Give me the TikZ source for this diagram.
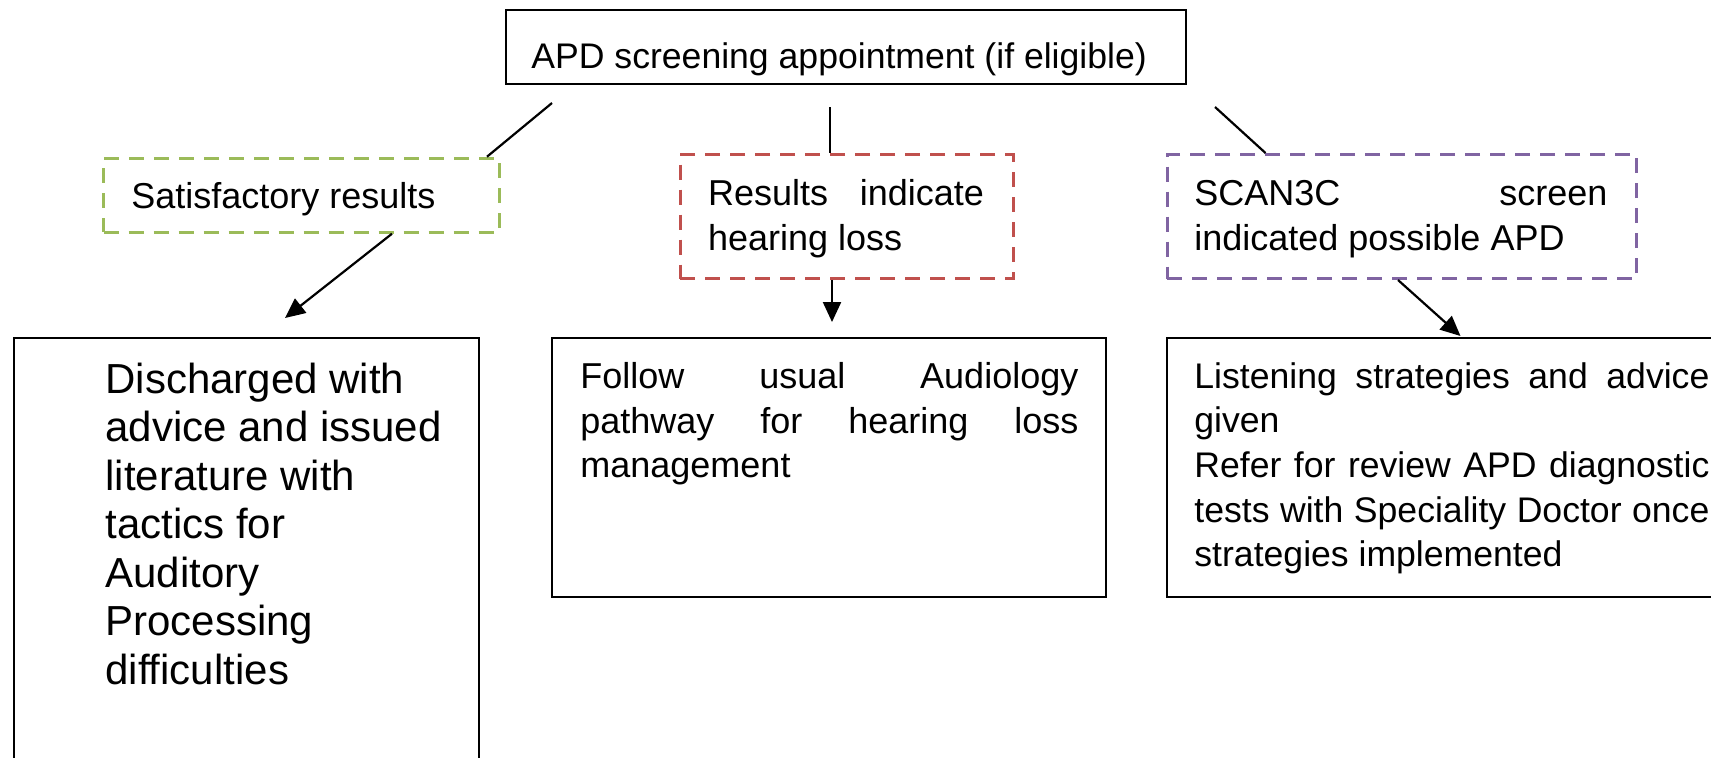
\documentclass[tikz,border=0pt]{standalone}
\usepackage{fontspec}
\setmainfont{Liberation Sans}
\usetikzlibrary{arrows.meta}
\definecolor{boxgreen}{HTML}{9BBB59}
\definecolor{boxred}{HTML}{C0504D}
\definecolor{boxpurple}{HTML}{8064A2}

\begin{document}
\begin{tikzpicture}[x=0.5pt,y=-0.5pt,
  solidbox/.style={draw=black, line width=1pt, inner sep=0pt, anchor=north west},
  dashbox/.style={line width=1.5pt, dash pattern=on 7.5pt off 5pt, inner sep=0pt, anchor=north west},
  txt/.style={inner sep=0pt, anchor=base west, align=left},
  link/.style={line width=1.1pt},
  flow/.style={line width=1.1pt, -{Triangle[length=10pt,width=9pt]}},
]
\useasboundingbox (0,0) rectangle (1711,757);
\clip (0,0) rectangle (1711,757);

% frames
\node[solidbox, minimum width=340.25pt, minimum height=37pt] (top) at (504.5,9) {};
\node[dashbox, draw=boxgreen, minimum width=197.75pt, minimum height=37pt] (g) at (102,156.7) {};
\node[dashbox, draw=boxred, minimum width=166.5pt, minimum height=62pt] (r) at (678.5,153) {};
\node[dashbox, draw=boxpurple, minimum width=234.75pt, minimum height=62pt] (p) at (1165.5,153) {};
\node[solidbox, minimum width=232.1pt, minimum height=230pt] (dl) at (13.4,337) {};
\node[solidbox, minimum width=276.9pt, minimum height=129.5pt] (dm) at (550.7,337) {};
\node[solidbox, minimum width=290pt, minimum height=129.5pt] (dr) at (1165.5,337) {};

% texts
\node[txt] (ttop) at (531,68) {\fontsize{17.8}{22}\selectfont APD screening appointment (if eligible)};
\node[txt] (tg) at (131,208.3) {\fontsize{18}{22}\selectfont Satisfactory results};
\node[txt] (tr) at (707.6,205) {\parbox[t]{138pt}{\fontsize{18}{22.8}\selectfont
  Results indicate\linebreak hearing loss}};
\node[txt] (tp) at (1194,205) {\parbox[t]{206.5pt}{\fontsize{18}{22.8}\selectfont
  SCAN3C screen\linebreak indicated possible APD}};
\node[txt] (tdl) at (105,393) {\parbox[t]{180pt}{\raggedright\fontsize{21}{24.25}\selectfont
  Discharged with\\ advice and issued\\ literature with\\ tactics for\\ Auditory\\ Processing\\ difficulties}};
\node[txt] (tdm) at (580,388.3) {\parbox[t]{249pt}{\fontsize{18}{22.4}\selectfont
  Follow usual Audiology\linebreak pathway for hearing loss\linebreak management}};
\node[txt] (tdr) at (1194,388) {\parbox[t]{257.5pt}{\fontsize{17.8}{22.35}\selectfont
  Listening strategies and advice\linebreak given\par
  Refer for review APD diagnostic\linebreak tests with Speciality Doctor once\linebreak strategies implemented}};

% connectors
\coordinate (s1) at (552,103);
\coordinate (s2) at (829.7,107);
\coordinate (s3) at (1215,107);
\draw[link] (s1) -- ([xshift=-6.75pt]g.north east);
\draw[link] (s2) -- (s2 |- r.north);
\draw[link] (s3) -- ([xshift=50pt]p.north west);

\coordinate (e1) at (285,318);
\coordinate (e2) at (832,322);
\coordinate (e3) at (1460.5,336);
\draw[flow] ([xshift=145pt]g.south west) -- (e1);
\draw[flow] (e2 |- r.south) -- (e2);
\draw[flow] ([xshift=116.25pt]p.south west) -- (e3);
\end{tikzpicture}
\end{document}
